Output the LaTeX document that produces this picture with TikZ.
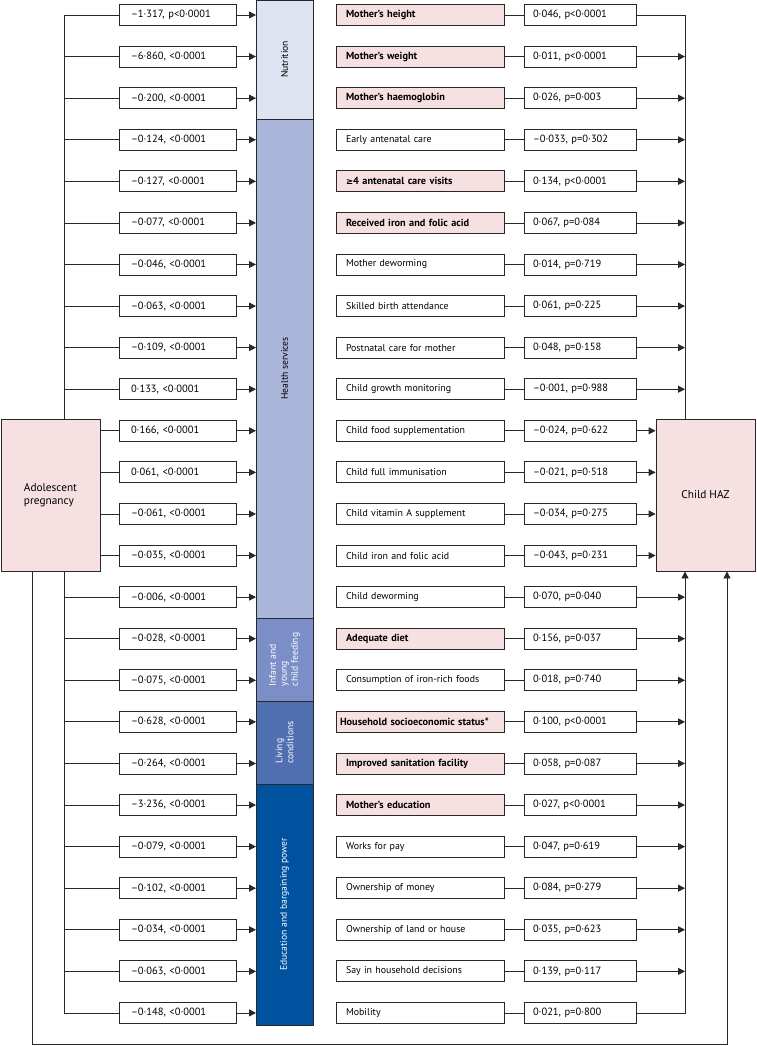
\documentclass[tikz,border=0pt]{standalone}
\usepackage{fontspec}
\setmainfont{PT Sans}
\newfontfamily\symf{DejaVu Sans}
\usetikzlibrary{arrows.meta}
\definecolor{pinkf}{RGB}{246,224,225}
\definecolor{nutc}{RGB}{221,227,240}
\definecolor{hsc}{RGB}{170,182,218}
\definecolor{iycfc}{RGB}{123,142,199}
\definecolor{livc}{RGB}{80,111,177}
\definecolor{educ}{RGB}{0,82,158}
\definecolor{lnc}{RGB}{40,40,40}
\tikzset{
  ln/.style={line width=0.8pt, draw=lnc},
  arr/.style={ln, -{Triangle[length=7pt,width=7pt]}},
  boxbase/.style={draw=lnc, line width=0.8pt, minimum height=21pt, inner ysep=0pt, align=left, font=\fontsize{10.5}{11}\selectfont, anchor=center},
  lbox/.style={boxbase, fill=white, text width=93pt, inner xsep=12pt},
  mbox/.style={boxbase, fill=white, text width=148pt, inner xsep=10pt, font=\fontsize{9.9}{10}\selectfont},
  hbox/.style={mbox, fill=pinkf, font=\fontsize{10.3}{11}\selectfont\bfseries},
  hboxw/.style={hbox, text width=160pt, inner xsep=4pt},
  rbox/.style={boxbase, fill=white, text width=94pt, inner xsep=9pt},
  cat/.style={draw=lnc, line width=0.8pt, minimum width=57pt, inner sep=0pt},
  catl/.style={rotate=90, align=left, font=\fontsize{9.6}{11}\selectfont},
  bigbox/.style={draw=lnc, line width=0.8pt, fill=pinkf, minimum width=99pt, minimum height=152pt, inner sep=0pt, font=\fontsize{11.3}{13}\selectfont, align=left}
}
\newcommand\mkrow[5]{%
  \pgfmathsetmacro\yy{15+(#1-1)*41.58}
  \node[lbox] (L#1) at (177.5,\yy) {#2};
  \node[#3] (M#1) at (420,\yy) {#4};
  \node[rbox] (R#1) at (580,\yy) {#5};
  \draw[arr] (L#1.east) -- (L#1.east -| barL);
  \draw[ln] (M#1.east) -- (R#1.west);
}
\begin{document}
\begin{tikzpicture}[x=1pt,y=-1pt]
\useasboundingbox (0,0) rectangle (756,1046);
\coordinate (barL) at (256,0);
\coordinate (trunkL) at (64,0);
\coordinate (trunkR) at (685,0);
\coordinate (lb) at (32,1044);
\coordinate (rb) at (727,1044);
% category bar
\node[cat, fill=nutc, minimum height=119pt] (nut) at (284.5,59.5) {};
\node[catl] (nutl) at (nut) {Nutrition};
\node[cat, fill=hsc, minimum height=499pt] (hs) at (284.5,368.5) {};
\node[catl] (hsl) at (hs) {Health services};
\node[cat, fill=iycfc, minimum height=83pt] (iy) at (284.5,659.5) {};
\node[catl, text=white] (iyl) at (iy) {Infant and\\young\\child feeding};
\node[cat, fill=livc, minimum height=83pt] (lv) at (284.5,742.5) {};
\node[catl, text=white] (lvl) at (lv) {Living\\conditions};
\node[cat, fill=educ, minimum height=241pt] (ed) at (284.5,904.5) {};
\node[catl, text=white] (edl) at (ed) {Education and bargaining power};
% rows
\mkrow{1}{–1·317, p<0·0001}{hbox}{Mother’s height}{0·046, p<0·0001}
\mkrow{2}{–6·860, <0·0001}{hbox}{Mother’s weight}{0·011, p<0·0001}
\mkrow{3}{–0·200, <0·0001}{hbox}{Mother’s haemoglobin}{0·026, p=0·003}
\mkrow{4}{–0·124, <0·0001}{mbox}{Early antenatal care}{–0·033, p=0·302}
\mkrow{5}{–0·127, <0·0001}{hbox}{{\symf\fontsize{8.5}{10}\selectfont ≥}4 antenatal care visits}{0·134, p<0·0001}
\mkrow{6}{–0·077, <0·0001}{hbox}{Received iron and folic acid}{0·067, p=0·084}
\mkrow{7}{–0·046, <0·0001}{mbox}{Mother deworming}{0·014, p=0·719}
\mkrow{8}{–0·063, <0·0001}{mbox}{Skilled birth attendance}{0·061, p=0·225}
\mkrow{9}{–0·109, <0·0001}{mbox}{Postnatal care for mother}{0·048, p=0·158}
\mkrow{10}{0·133, <0·0001}{mbox}{Child growth monitoring}{–0·001, p=0·988}
\mkrow{11}{0·166, <0·0001}{mbox}{Child food supplementation}{–0·024, p=0·622}
\mkrow{12}{0·061, <0·0001}{mbox}{Child full immunisation}{–0·021, p=0·518}
\mkrow{13}{–0·061, <0·0001}{mbox}{Child vitamin A supplement}{–0·034, p=0·275}
\mkrow{14}{–0·035, <0·0001}{mbox}{Child iron and folic acid}{–0·043, p=0·231}
\mkrow{15}{–0·006, <0·0001}{mbox}{Child deworming}{0·070, p=0·040}
\mkrow{16}{–0·028, <0·0001}{hbox}{Adequate diet}{0·156, p=0·037}
\mkrow{17}{–0·075, <0·0001}{mbox}{Consumption of iron-rich foods}{0·018, p=0·740}
\mkrow{18}{–0·628, <0·0001}{hboxw}{Household socioeconomic status*}{0·100, p<0·0001}
\mkrow{19}{–0·264, <0·0001}{hbox}{Improved sanitation facility}{0·058, p=0·087}
\mkrow{20}{–3·236, <0·0001}{hbox}{Mother’s education}{0·027, p<0·0001}
\mkrow{21}{–0·079, <0·0001}{mbox}{Works for pay}{0·047, p=0·619}
\mkrow{22}{–0·102, <0·0001}{mbox}{Ownership of money}{0·084, p=0·279}
\mkrow{23}{–0·034, <0·0001}{mbox}{Ownership of land or house}{0·035, p=0·623}
\mkrow{24}{–0·063, <0·0001}{mbox}{Say in household decisions}{0·139, p=0·117}
\mkrow{25}{–0·148, <0·0001}{mbox}{Mobility}{0·021, p=0·800}
% left trunk
\draw[ln] (L1.west -| trunkL) -- (L25.west -| trunkL);
\foreach \i in {1,...,10,15,16,...,25}{
  \draw[ln] (L\i.west -| trunkL) -- (L\i.west);
}
% adolescent pregnancy
\node[bigbox] (adol) at (50.5,495) {Adolescent\\pregnancy};
\foreach \i in {11,...,14}{
  \draw[ln] (L\i.west -| adol.east) -- (L\i.west);
}
% child HAZ
\node[bigbox] (haz) at (705.5,495) {Child HAZ};
\draw[ln] (R1.east) -| (haz.north -| trunkR);
\foreach \i in {2,...,10,15,16,...,24}{
  \draw[arr] (R\i.east) -- (R\i.east -| trunkR);
}
\foreach \i in {11,...,14}{
  \draw[arr] (R\i.east) -- (R\i.east -| haz.west);
}
\draw[arr] (R25.east) -| (haz.south -| trunkR);
% outer loop
\draw[arr] (adol.south -| lb) -- (lb) -- (rb) -- (haz.south -| rb);
\end{tikzpicture}
\end{document}
